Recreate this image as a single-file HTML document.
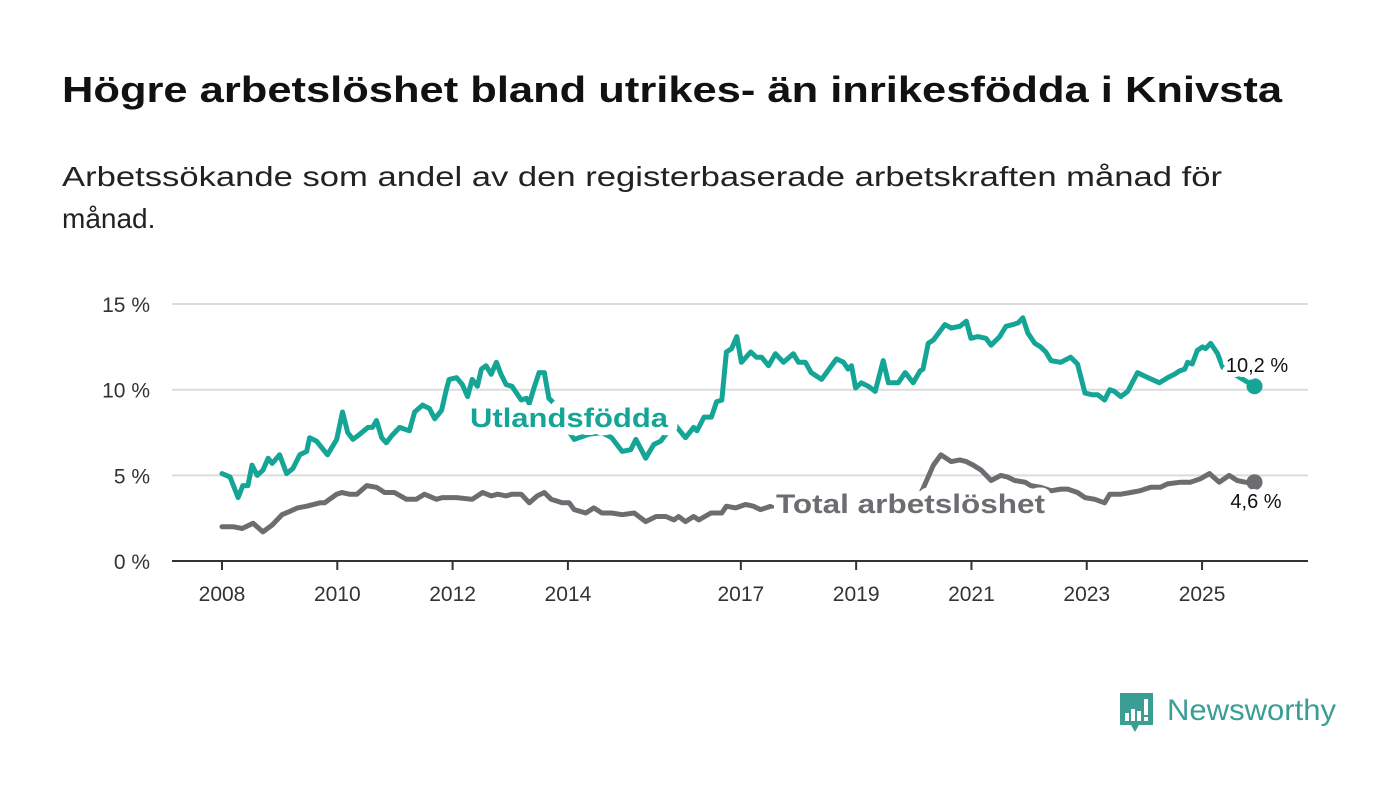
<!DOCTYPE html>
<html><head><meta charset="utf-8"><style>
html,body{margin:0;padding:0;background:#fff;}
svg{display:block;font-family:"Liberation Sans",sans-serif;}
</style></head><body>
<svg id="chart" width="1400" height="794" viewBox="0 0 1400 794">
<text x="62" y="102" font-size="36" font-weight="bold" fill="#111" textLength="1220" lengthAdjust="spacingAndGlyphs">Högre arbetslöshet bland utrikes- än inrikesfödda i Knivsta</text>
<text x="62" y="186" font-size="28" fill="#222" textLength="1160" lengthAdjust="spacingAndGlyphs">Arbetssökande som andel av den registerbaserade arbetskraften månad för</text>
<text x="62" y="228" font-size="28" fill="#222">månad.</text>
<g id="grid"></g><g id="xaxis"></g><g id="lines"></g><g id="labels"></g>
<g>
<path d="M1120 693 h33 v32 h-14 l-4 7 -4 -7 h-11 z" fill="#3a9e94"/>
<rect x="1125" y="713" width="4" height="8" fill="#fff"/><rect x="1131" y="709" width="4" height="12" fill="#fff"/><rect x="1137" y="711" width="4" height="10" fill="#fff"/><rect x="1144" y="699" width="4" height="16" fill="#fff"/><rect x="1144" y="717" width="4" height="4" fill="#fff"/>
<text x="1167" y="720" font-size="30" fill="#3a9e94" textLength="169" lengthAdjust="spacingAndGlyphs">Newsworthy</text>
</g>
</svg>
<script>
const yTicks=[0,5,10,15];
const yTickLabels=["0 %","5 %","10 %","15 %"];
const xTicks=[2008,2010,2012,2014,2017,2019,2021,2023,2025];
const utlYears=[2008.00,2008.14,2008.28,2008.36,2008.45,2008.52,2008.61,2008.71,2008.80,2008.87,2009.00,2009.12,2009.23,2009.35,2009.47,2009.52,2009.64,2009.83,2009.99,2010.09,2010.18,2010.27,2010.39,2010.53,2010.61,2010.68,2010.77,2010.85,2010.94,2011.08,2011.25,2011.34,2011.48,2011.60,2011.69,2011.81,2011.89,2011.94,2012.07,2012.17,2012.26,2012.34,2012.43,2012.50,2012.58,2012.67,2012.76,2012.84,2012.93,2013.03,2013.19,2013.28,2013.33,2013.42,2013.50,2013.59,2013.67,2013.76,2013.93,2014.11,2014.37,2014.59,2014.76,2014.94,2015.09,2015.18,2015.35,2015.49,2015.61,2015.70,2015.87,2016.04,2016.18,2016.24,2016.36,2016.49,2016.58,2016.67,2016.75,2016.84,2016.93,2017.01,2017.17,2017.27,2017.36,2017.48,2017.60,2017.74,2017.91,2018.00,2018.12,2018.22,2018.40,2018.66,2018.78,2018.86,2018.92,2018.99,2019.09,2019.21,2019.33,2019.47,2019.56,2019.73,2019.85,2019.99,2020.11,2020.16,2020.25,2020.34,2020.54,2020.65,2020.80,2020.91,2020.99,2021.11,2021.25,2021.34,2021.49,2021.60,2021.72,2021.81,2021.89,2021.98,2022.10,2022.20,2022.29,2022.38,2022.55,2022.72,2022.84,2022.97,2023.10,2023.19,2023.31,2023.40,2023.48,2023.59,2023.71,2023.88,2024.00,2024.26,2024.40,2024.52,2024.61,2024.70,2024.75,2024.83,2024.92,2025.01,2025.06,2025.15,2025.27,2025.36,2025.71,2025.91];
const utlValues=[5.1,4.9,3.7,4.4,4.4,5.6,5.0,5.3,6.0,5.7,6.2,5.1,5.4,6.2,6.4,7.2,7.0,6.2,7.1,8.7,7.5,7.1,7.4,7.8,7.8,8.2,7.2,6.9,7.3,7.8,7.6,8.7,9.1,8.9,8.3,8.8,10.0,10.6,10.7,10.3,9.6,10.6,10.2,11.2,11.4,10.9,11.6,10.9,10.3,10.2,9.4,9.5,9.2,10.2,11.0,11.0,9.5,9.2,8.0,7.1,7.4,7.5,7.2,6.4,6.5,7.1,6.0,6.8,7.0,7.4,7.9,7.2,7.8,7.6,8.4,8.4,9.3,9.4,12.2,12.4,13.1,11.6,12.2,11.9,11.9,11.4,12.1,11.6,12.1,11.6,11.6,11.0,10.6,11.8,11.6,11.2,11.4,10.1,10.4,10.2,9.9,11.7,10.4,10.4,11.0,10.4,11.1,11.2,12.7,12.9,13.8,13.6,13.7,14.0,13.0,13.1,13.0,12.6,13.1,13.7,13.8,13.9,14.2,13.3,12.7,12.5,12.2,11.7,11.6,11.9,11.5,9.8,9.7,9.7,9.4,10.0,9.9,9.6,9.9,11.0,10.8,10.4,10.7,10.9,11.1,11.2,11.6,11.5,12.3,12.5,12.4,12.7,12.1,11.3,10.6,10.2];
const totYears=[2008.00,2008.19,2008.35,2008.54,2008.71,2008.87,2009.04,2009.18,2009.31,2009.47,2009.70,2009.78,2009.99,2010.08,2010.21,2010.34,2010.51,2010.68,2010.82,2010.99,2011.20,2011.37,2011.51,2011.72,2011.82,2012.07,2012.34,2012.52,2012.67,2012.78,2012.93,2013.03,2013.19,2013.33,2013.47,2013.59,2013.71,2013.90,2014.02,2014.11,2014.31,2014.45,2014.59,2014.76,2014.94,2015.15,2015.35,2015.53,2015.70,2015.84,2015.92,2016.04,2016.18,2016.27,2016.48,2016.67,2016.75,2016.91,2017.08,2017.22,2017.34,2017.52,2017.83,2018.35,2018.86,2019.38,2019.82,2020.13,2020.34,2020.47,2020.65,2020.80,2020.91,2021.03,2021.17,2021.34,2021.51,2021.63,2021.75,2021.93,2022.03,2022.20,2022.38,2022.55,2022.67,2022.84,2022.97,2023.14,2023.31,2023.40,2023.59,2023.76,2023.92,2024.11,2024.28,2024.40,2024.63,2024.80,2024.97,2025.13,2025.30,2025.47,2025.61,2025.75,2025.91];
const totValues=[2.0,2.0,1.9,2.2,1.7,2.1,2.7,2.9,3.1,3.2,3.4,3.4,3.9,4.0,3.9,3.9,4.4,4.3,4.0,4.0,3.6,3.6,3.9,3.6,3.7,3.7,3.6,4.0,3.8,3.9,3.8,3.9,3.9,3.4,3.8,4.0,3.6,3.4,3.4,3.0,2.8,3.1,2.8,2.8,2.7,2.8,2.3,2.6,2.6,2.4,2.6,2.3,2.6,2.4,2.8,2.8,3.2,3.1,3.3,3.2,3.0,3.2,3.3,3.4,3.4,3.5,3.6,4.0,5.6,6.2,5.8,5.9,5.8,5.6,5.3,4.7,5.0,4.9,4.7,4.6,4.4,4.3,4.1,4.2,4.2,4.0,3.7,3.6,3.4,3.9,3.9,4.0,4.1,4.3,4.3,4.5,4.6,4.6,4.8,5.1,4.6,5.0,4.7,4.6,4.6];
const utlLast="10,2 %", totLast="4,6 %";

const NS="http://www.w3.org/2000/svg";
const X=y=>222+(y-2008)*57.65;
const Y=v=>561-v*17.13;
function mk(tag,attrs,parent,text){const e=document.createElementNS(NS,tag);for(const k in attrs)e.setAttribute(k,attrs[k]);if(text!==undefined)e.textContent=text;parent.appendChild(e);return e;}
const grid=document.getElementById('grid'),xa=document.getElementById('xaxis'),lines=document.getElementById('lines'),labs=document.getElementById('labels');
yTicks.forEach((t,i)=>{
  if(t>0){const g=mk('line',{x1:172,x2:1308,y1:Y(t),y2:Y(t),stroke:'#dcdcdc','stroke-width':2},grid);
  
  }
  const l=mk('text',{x:150,y:Y(t)+8,'font-size':21,fill:'#333','text-anchor':'end'},grid,yTickLabels[i]);
  
  
});
const ax=mk('line',{x1:172,x2:1308,y1:561,y2:561,stroke:'#333','stroke-width':2},xa);


xTicks.forEach(t=>{
  mk('line',{x1:X(t),x2:X(t),y1:561,y2:570,stroke:'#333','stroke-width':2},xa);
  const l=mk('text',{x:X(t),y:601,'font-size':21,fill:'#333','text-anchor':'middle'},xa,String(t));
  
  
});
function series(ys,vs,color,name){
  const d=ys.map((y,i)=>(i?'L':'M')+X(y).toFixed(1)+' '+Y(vs[i]).toFixed(1)).join(' ');
  const p=mk('path',{d:d,fill:'none',stroke:color,'stroke-width':5,'stroke-linejoin':'round','stroke-linecap':'round'},lines);
  
  
  const n=ys.length-1;
  const c=mk('circle',{cx:X(ys[n]),cy:Y(vs[n]),r:8,fill:color},lines);
  
  
}
series(totYears,totValues,'#6d6c70','total');
series(utlYears,utlValues,'#14a596','utlandsfodda');
function label(x,y,txt,size,w,color,name,anchor,len,halo){
  const a={x:x,y:y,'font-size':size,'font-weight':w,fill:color,stroke:'#fff','stroke-width':halo,'paint-order':'stroke','stroke-linejoin':'round','text-anchor':anchor||'start'};
  if(len){a.textLength=len;a.lengthAdjust='spacingAndGlyphs';}
  const t=mk('text',a,labs,txt);
  
  
}
label(470,427,'Utlandsfödda',27,'bold','#14a596','utlandsfodda-label','start',198,16);
label(776,513,'Total arbetslöshet',27,'bold','#6d6c70','total-label','start',269,16);
label(1257,372,utlLast,20,'normal','#111','utlandsfodda-end-value','middle',0,10);
label(1256,508,totLast,20,'normal','#111','total-end-value','middle',0,10);
</script>
</body></html>
